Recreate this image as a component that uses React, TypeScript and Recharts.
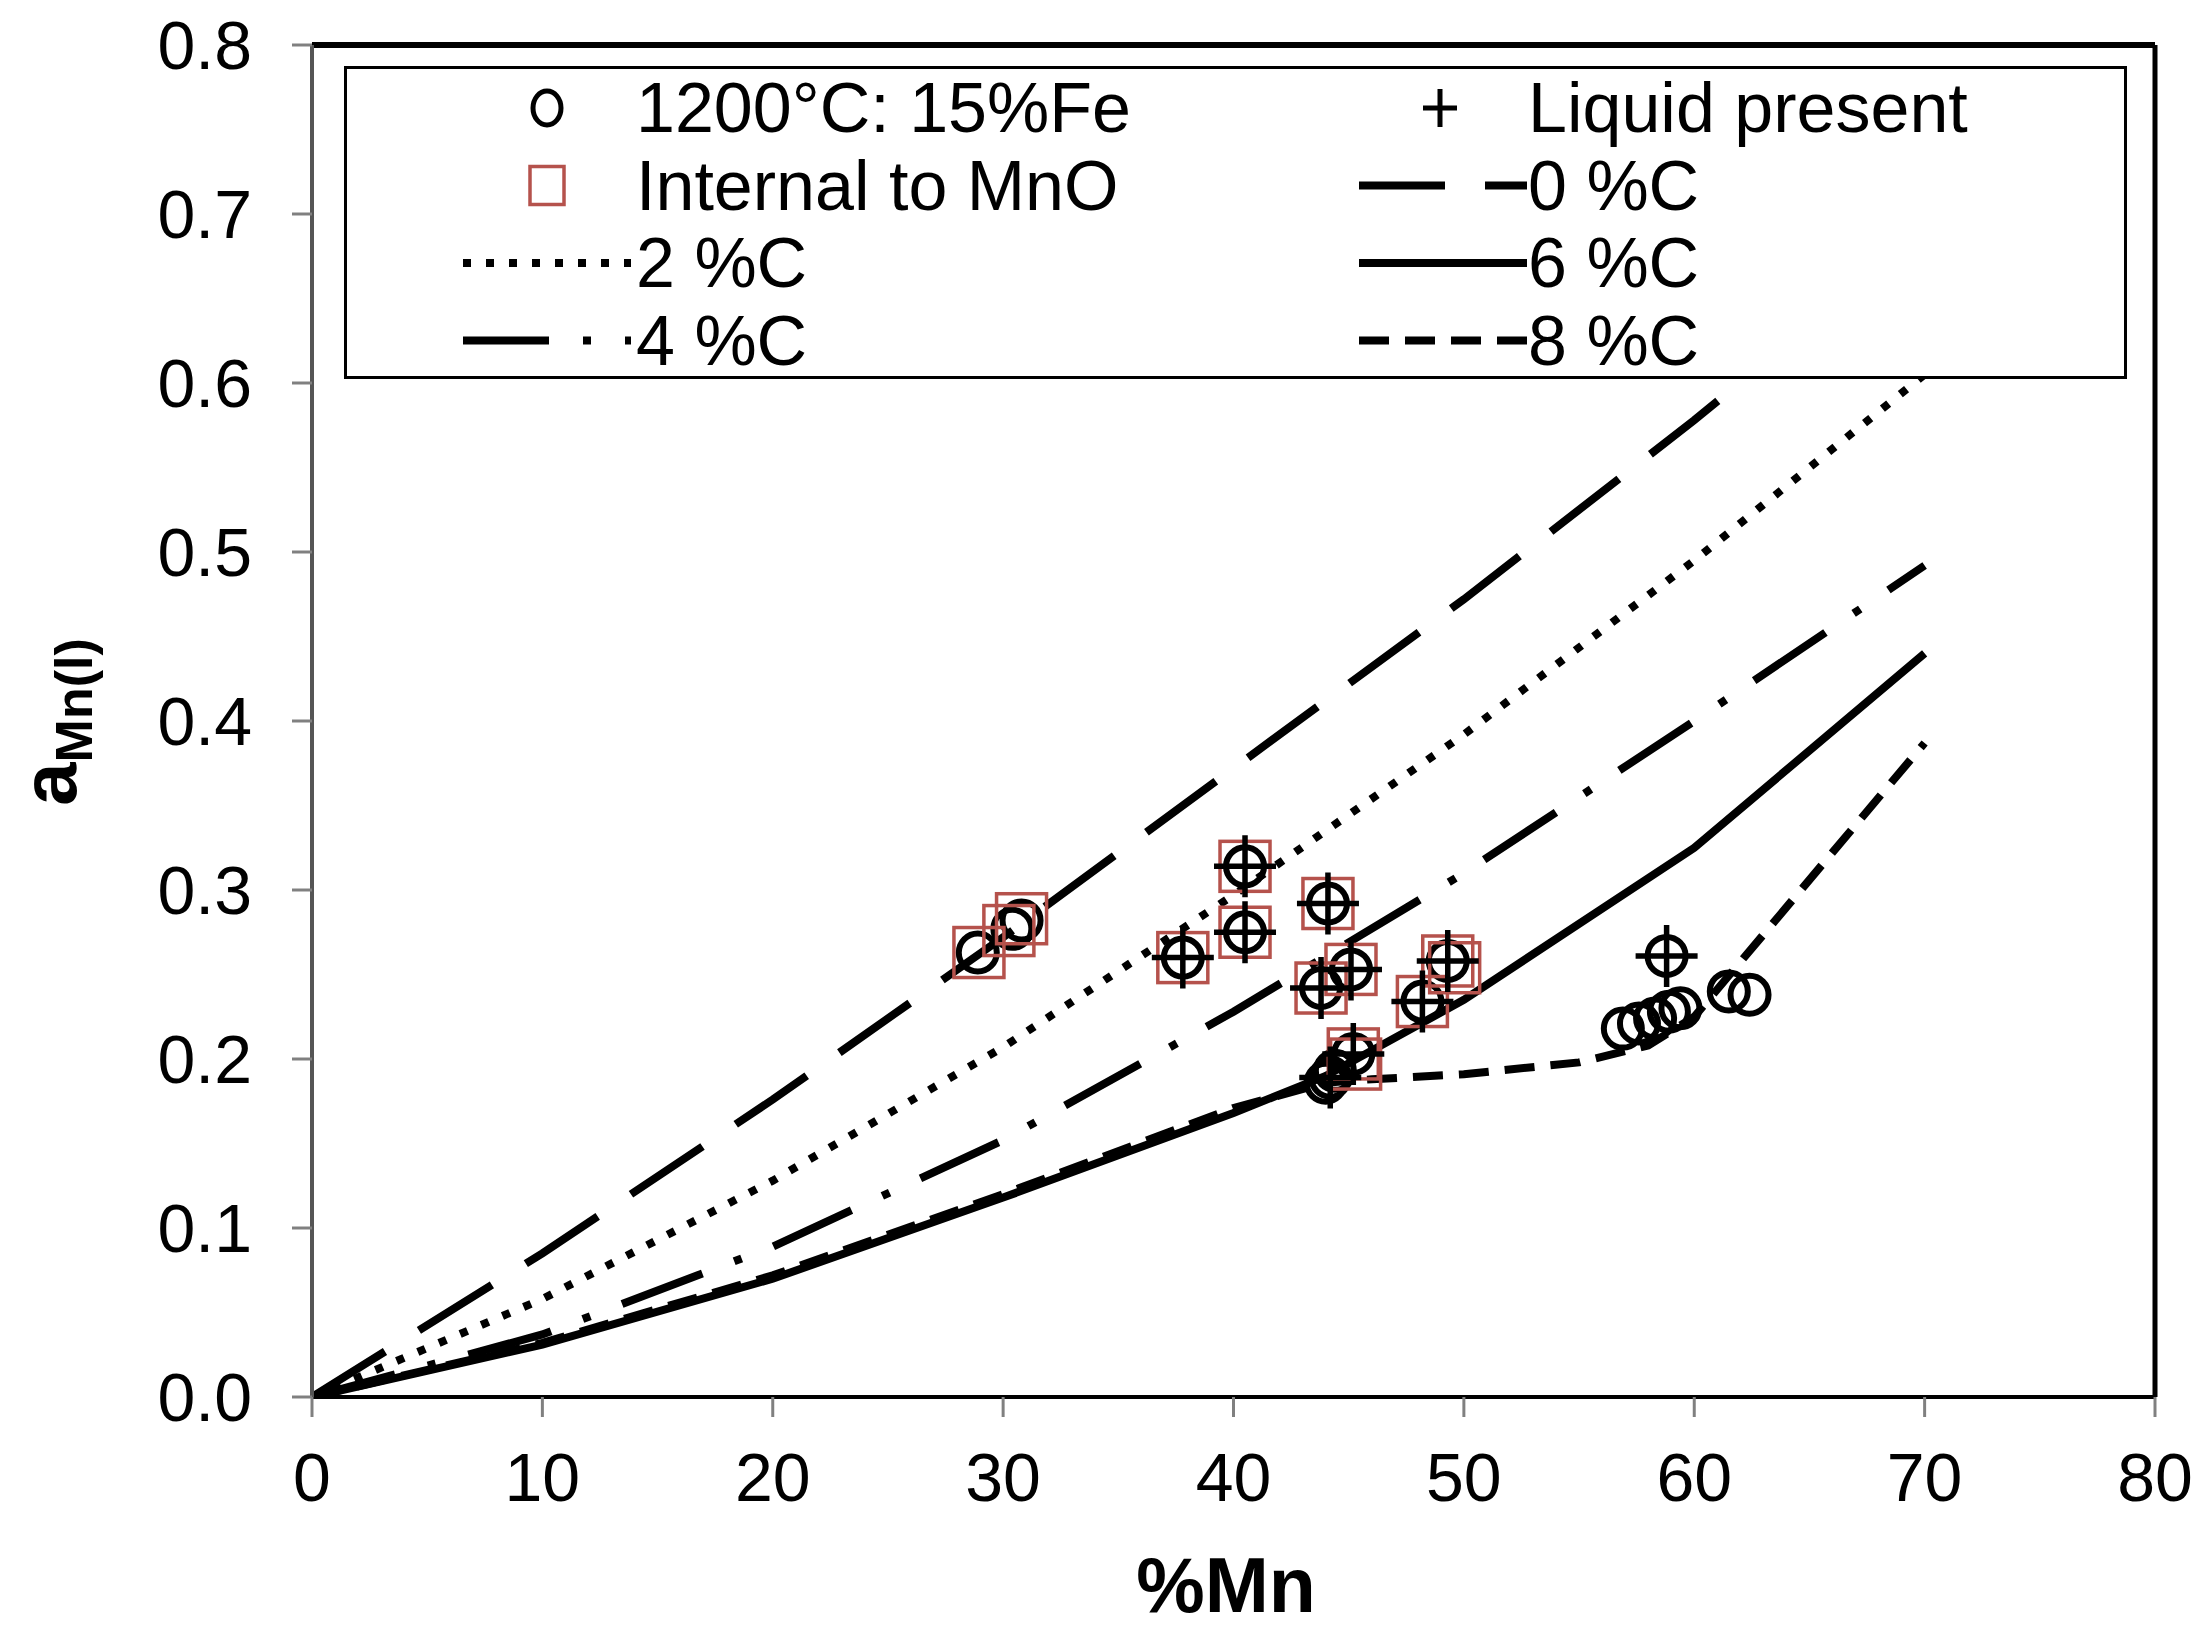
import React from 'react';
import {
  ComposedChart,
  Line,
  Scatter,
  XAxis,
  YAxis,
  ReferenceLine,
  Legend,
} from 'recharts';

const FONT = '"Liberation Sans", Arial, Helvetica, sans-serif';
const MNO_RED = '#b5524c';

// model curves: %Mn against a_Mn(l)
const mnGrid = [0, 10, 20, 30, 40, 50, 60, 70];
const act0C = [0, 0.085, 0.176, 0.272, 0.372, 0.472, 0.578, 0.69];
const act2C = [0, 0.058, 0.128, 0.207, 0.297, 0.392, 0.495, 0.605];
const act4C = [0, 0.037, 0.089, 0.152, 0.228, 0.31, 0.4, 0.492];
const mn6C = [0, 10, 20, 30, 40, 44, 50, 60, 70];
const act6C = [0, 0.031, 0.07, 0.118, 0.168, 0.19, 0.235, 0.325, 0.44];
const mn8C = [0, 10, 20, 30, 40, 44, 46, 50, 55, 58, 60, 70];
const act8C = [0, 0.032, 0.072, 0.12, 0.171, 0.186, 0.188, 0.191, 0.198, 0.208, 0.225, 0.387];

// measured points
const fe15Mn = [28.9, 30.4, 30.8, 37.8, 40.5, 40.5, 44.1, 43.8, 45.1, 44.2, 44.0, 44.4, 45.2, 48.2, 49.3, 58.8, 56.9, 57.6, 58.3, 58.9, 59.4, 61.5, 62.4];
const fe15Act = [0.263, 0.277, 0.282, 0.26, 0.314, 0.275, 0.292, 0.242, 0.253, 0.189, 0.186, 0.193, 0.203, 0.234, 0.258, 0.261, 0.218, 0.221, 0.224, 0.228, 0.23, 0.24, 0.238];
const mnoMn = [28.95, 30.25, 30.8, 37.8, 40.5, 40.5, 44.1, 43.8, 45.1, 45.2, 45.3, 48.2, 49.3, 49.6];
const mnoAct = [0.263, 0.276, 0.283, 0.26, 0.314, 0.275, 0.292, 0.242, 0.253, 0.203, 0.197, 0.234, 0.258, 0.254];
const liqMn = [37.8, 40.5, 40.5, 44.1, 43.8, 45.1, 44.2, 45.2, 48.2, 49.3, 58.8];
const liqAct = [0.26, 0.314, 0.275, 0.292, 0.242, 0.253, 0.189, 0.203, 0.234, 0.258, 0.261];

const xTicks = [0, 10, 20, 30, 40, 50, 60, 70, 80];
const yTicks = [0, 0.1, 0.2, 0.3, 0.4, 0.5, 0.6, 0.7, 0.8];

const zip = (xs: number[], ys: number[]) => xs.map((x, i) => ({ x, y: ys[i] }));

const curves = [
  { name: '0 %C', data: zip(mnGrid, act0C), dash: '86 40' },
  { name: '2 %C', data: zip(mnGrid, act2C), dash: '8 15' },
  { name: '4 %C', data: zip(mnGrid, act4C), dash: '86 34 8 34' },
  { name: '6 %C', data: zip(mn6C, act6C), dash: undefined },
  { name: '8 %C', data: zip(mn8C, act8C), dash: '30 16' },
];
const dashOf = (name: string) => curves.find((c) => c.name === name)?.dash;

const OpenCircle = (p: any) => (
  <circle cx={p.cx} cy={p.cy} r={19} fill="none" stroke="#000" strokeWidth={6} />
);
const OpenSquare = (p: any) => (
  <rect x={p.cx - 25} y={p.cy - 25} width={50} height={50} fill="none" stroke={MNO_RED} strokeWidth={3.5} />
);
const Plus = (p: any) => (
  <path
    d={`M${p.cx - 31},${p.cy}H${p.cx + 31}M${p.cx},${p.cy - 31}V${p.cy + 31}`}
    stroke="#000"
    strokeWidth={5.5}
    fill="none"
  />
);

// legend laid out like the Excel one: two columns, four rows
const legendRows = [
  [{ label: '1200°C: 15%Fe', kind: 'circle' }, { label: 'Liquid present', kind: 'plus' }],
  [{ label: 'Internal to MnO', kind: 'square' }, { label: '0 %C', kind: 'line' }],
  [{ label: '2 %C', kind: 'line' }, { label: '6 %C', kind: 'line' }],
  [{ label: '4 %C', kind: 'line' }, { label: '8 %C', kind: 'line' }],
];

function LegendBox() {
  const colX = [0, 896];
  return (
    <svg width={1783} height={313} style={{ display: 'block' }}>
      <rect x={1.5} y={1.5} width={1780} height={310} fill="#fff" stroke="#000" strokeWidth={3} />
      {legendRows.map((row, r) =>
        row.map((item, c) => {
          const y = 42 + r * 77.5;
          const ox = colX[c];
          let icon = null;
          if (item.kind === 'circle') {
            icon = <ellipse cx={ox + 203} cy={y} rx={14} ry={17} fill="none" stroke="#000" strokeWidth={5} />;
          } else if (item.kind === 'square') {
            icon = <rect x={ox + 186} y={y - 19} width={34} height={38} fill="none" stroke={MNO_RED} strokeWidth={3.5} />;
          } else if (item.kind === 'plus') {
            icon = (
              <path d={`M${ox + 183},${y}H${ox + 217}M${ox + 200},${y - 19}V${y + 19}`} stroke="#000" strokeWidth={5} />
            );
          } else {
            icon = (
              <line
                x1={ox + 119}
                x2={ox + 287}
                y1={y}
                y2={y}
                stroke="#000"
                strokeWidth={8}
                strokeDasharray={dashOf(item.label)}
              />
            );
          }
          return (
            <g key={`${r}-${c}`}>
              {icon}
              <text
                x={ox + (c === 0 ? 292 : 288)}
                y={y}
                dominantBaseline="central"
                fontFamily={FONT}
                fontSize={70}
                fill="#000"
              >
                {item.label}
              </text>
            </g>
          );
        })
      )}
    </svg>
  );
}

const YTitle = () => (
  <text transform="translate(76, 722) rotate(-90)" textAnchor="middle" fontFamily={FONT} fontWeight="bold" fill="#000">
    <tspan fontSize={78}>a</tspan>
    <tspan fontSize={52} dy={16}>Mn(l)</tspan>
  </text>
);

const XTitle = () => (
  <text x={1226} y={1612} textAnchor="middle" fontFamily={FONT} fontWeight="bold" fontSize={77} fill="#000">
    %Mn
  </text>
);

export default function App() {
  return (
    <div style={{ width: 2201, height: 1651, background: '#fff', position: 'relative' }}>
      <style>{'body{margin:0}'}</style>
      <ComposedChart width={2201} height={1651} margin={{ top: 45, right: 46, bottom: 0, left: 0 }}>
        <XAxis
          type="number"
          dataKey="x"
          domain={[0, 80]}
          ticks={xTicks}
          interval={0}
          allowDataOverflow
          height={254}
          tickSize={20}
          tickMargin={36}
          axisLine={{ stroke: '#000', strokeWidth: 4 }}
          tickLine={{ stroke: '#808080', strokeWidth: 3 }}
          tick={{ fontFamily: FONT, fontSize: 68, fill: '#000' }}
          label={<XTitle />}
        />
        <YAxis
          type="number"
          dataKey="y"
          domain={[0, 0.8]}
          ticks={yTicks}
          interval={0}
          allowDataOverflow
          width={312}
          tickSize={20}
          tickMargin={40}
          tickFormatter={(v: number) => v.toFixed(1)}
          axisLine={{ stroke: '#555', strokeWidth: 4 }}
          tickLine={{ stroke: '#808080', strokeWidth: 3 }}
          tick={{ fontFamily: FONT, fontSize: 68, fill: '#000' }}
          label={<YTitle />}
        />
        <ReferenceLine y={0.8} stroke="#000" strokeWidth={6} />
        <ReferenceLine x={80} stroke="#000" strokeWidth={5} />
        {curves.map((c) => (
          <Line
            key={c.name}
            name={c.name}
            data={c.data}
            dataKey="y"
            type="linear"
            stroke="#000"
            strokeWidth={8}
            strokeDasharray={c.dash}
            dot={false}
            activeDot={false}
            isAnimationActive={false}
          />
        ))}
        <Scatter name="1200°C: 15%Fe" data={zip(fe15Mn, fe15Act)} dataKey="y" shape={OpenCircle} isAnimationActive={false} />
        <Scatter name="Internal to MnO" data={zip(mnoMn, mnoAct)} dataKey="y" shape={OpenSquare} isAnimationActive={false} />
        <Scatter name="Liquid present" data={zip(liqMn, liqAct)} dataKey="y" shape={Plus} isAnimationActive={false} />
        <Legend
          layout="horizontal"
          verticalAlign="middle"
          align="center"
          content={() => <LegendBox />}
          wrapperStyle={{ position: 'absolute', left: 344, top: 66, width: 1783, height: 313, margin: 0 }}
        />
      </ComposedChart>
    </div>
  );
}
